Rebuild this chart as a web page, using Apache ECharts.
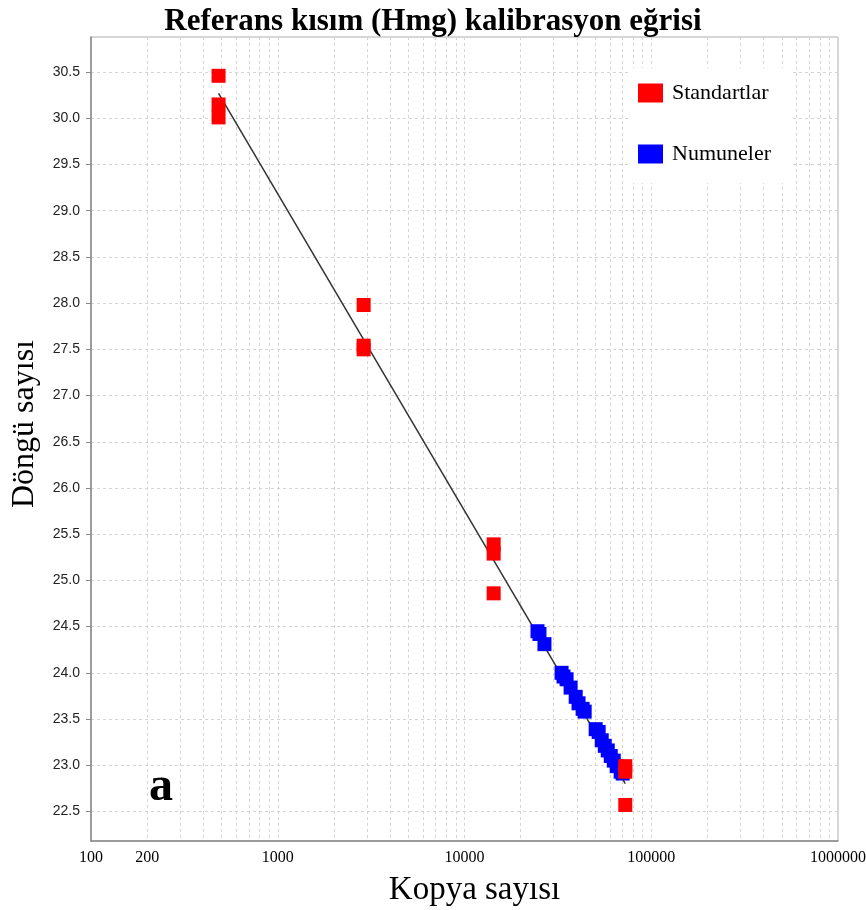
<!DOCTYPE html>
<html><head><meta charset="utf-8">
<script src="https://cdn.jsdelivr.net/npm/echarts@6/dist/echarts.min.js"></script>
<style>html,body{margin:0;padding:0;background:#fff}#c{width:866px;height:910px}</style>
</head><body><div id="c"></div><script>
// Standards (Standartlar)
const stdCopies = [482, 482, 482, 2884, 2884, 2884, 14330, 14330, 14330, 72600, 72600, 72600];
const stdCycles = [30.46, 30.15, 30.01, 27.98, 27.54, 27.50, 25.39, 25.29, 24.86, 22.99, 22.93, 22.57];
// Samples (Numuneler)
const smpCopies = [24600, 25200, 26800, 33100, 33900, 35200, 37000, 39400, 40800, 42900, 44000, 50400, 52300, 54300, 56400, 58500, 60700, 63000, 65300, 68600, 70300];
const smpCycles = [24.45, 24.42, 24.31, 24.00, 23.96, 23.93, 23.84, 23.74, 23.67, 23.61, 23.58, 23.39, 23.36, 23.27, 23.21, 23.16, 23.10, 23.05, 22.99, 22.93, 22.91];
// Calibration fit line end points
const fitCopies = [482, 72600];
const fitCycles = [30.27, 22.80];
// Axis ticks
const xLabelValues = [100, 200, 1000, 10000, 100000, 1000000];
const xDecades = [100, 1000, 10000, 100000];
const xMultipliers = [1, 2, 3, 4, 5, 6, 7, 8, 9];
const xGridValues = [];
xDecades.forEach(d => xMultipliers.forEach(m => xGridValues.push(d * m)));
xGridValues.push(1000000);

const serif = "'Liberation Serif', 'Times New Roman', serif";
const sans = "'Liberation Sans', Arial, sans-serif";

const chart = echarts.init(document.getElementById('c'), null, {renderer: 'canvas'});
chart.setOption({
  animation: false,
  backgroundColor: '#fff',
  title: [
    {text: 'Referans kısım (Hmg) kalibrasyon eğrisi', left: 'center', top: 1,
     textStyle: {fontFamily: serif, fontWeight: 'bold', fontSize: 31, color: '#000'}},
    {text: 'a', left: 144, top: 759,
     textStyle: {fontFamily: serif, fontWeight: 'bold', fontSize: 48, color: '#000'}}
  ],
  legend: {
    data: ['Standartlar', 'Numuneler'],
    orient: 'vertical', left: 628, top: 68,
    backgroundColor: '#fff',
    padding: [14, 22, 18, 10],
    itemWidth: 25, itemHeight: 19, itemGap: 39,
    icon: 'rect',
    textStyle: {fontFamily: serif, fontSize: 22, color: '#000', padding: [0, 0, 0, 4]}
  },
  grid: {left: 91, right: 28, top: 37, bottom: 69, show: true, borderColor: '#b0b0b0', borderWidth: 1,
         outerBoundsMode: 'none', containLabel: false},
  xAxis: {
    type: 'log', logBase: 10, min: 100, max: 1000000,
    name: 'Kopya sayısı', nameLocation: 'middle', nameGap: 33,
    nameTextStyle: {fontFamily: serif, fontSize: 33, color: '#000', padding: [0, 0, 0, 20]},
    axisLine: {show: true, lineStyle: {color: '#888', width: 1.5}},
    axisTick: {show: false, customValues: xGridValues},
    axisLabel: {customValues: xLabelValues, margin: 9, fontFamily: serif, fontSize: 16, color: '#000',
      formatter: v => String(Math.round(v))},
    splitLine: {show: true, lineStyle: {color: '#d4d4d4', type: [3, 3], width: 1}}
  },
  yAxis: {
    type: 'value', min: 22.18, max: 30.88, splitNumber: 17, minInterval: 0.5, maxInterval: 0.5,
    name: 'Döngü sayısı', nameLocation: 'middle', nameGap: 50, nameRotate: 90,
    nameTextStyle: {fontFamily: serif, fontSize: 32, color: '#000', padding: [0, 0, 0, 30]},
    axisLine: {show: true, lineStyle: {color: '#888', width: 1.5}},
    axisTick: {show: true, length: 5, lineStyle: {color: '#888'}},
    axisLabel: {margin: 11, fontFamily: sans, fontSize: 14, color: '#222', interval: 0,
      showMinLabel: false, showMaxLabel: false,
      formatter: v => (Math.abs(v * 2 - Math.round(v * 2)) < 1e-6 ? v.toFixed(1) : '')},
    splitLine: {show: true, lineStyle: {color: '#d4d4d4', type: [3, 3], width: 1}}
  },
  series: [
    {name: 'fit', type: 'line', data: fitCopies.map((x, i) => [x, fitCycles[i]]),
     symbol: 'none', lineStyle: {color: '#333', width: 1.5}, z: 1, silent: true},
    {name: 'Numuneler', type: 'scatter', data: smpCopies.map((x, i) => [x, smpCycles[i]]),
     symbol: 'rect', symbolSize: 14, itemStyle: {color: '#0000ff', opacity: 1}, z: 2},
    {name: 'Standartlar', type: 'scatter', data: stdCopies.map((x, i) => [x, stdCycles[i]]),
     symbol: 'rect', symbolSize: 14, itemStyle: {color: '#ff0000', opacity: 1}, z: 3}
  ]
});
</script></body></html>
